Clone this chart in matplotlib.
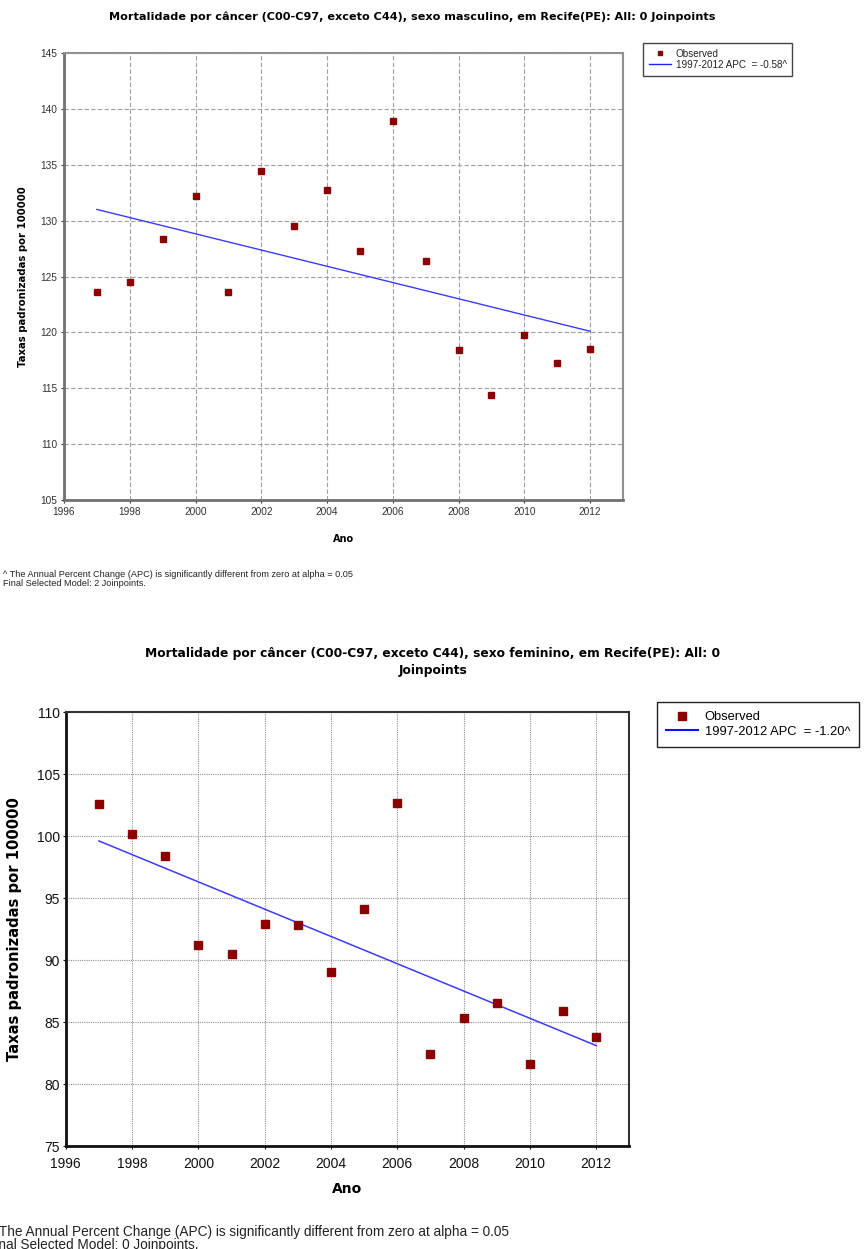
import matplotlib
matplotlib.use("Agg")
import matplotlib.pyplot as plt
from matplotlib.lines import Line2D

# dados
anos = [1997, 1998, 1999, 2000, 2001, 2002, 2003, 2004,
        2005, 2006, 2007, 2008, 2009, 2010, 2011, 2012]
taxa_masc = [123.6, 124.5, 128.4, 132.2, 123.6, 134.4, 129.5, 132.7,
             127.3, 138.9, 126.4, 118.4, 114.4, 119.8, 117.3, 118.5]
taxa_fem = [102.6, 100.2, 98.4, 91.2, 90.5, 92.9, 92.8, 89.0,
            94.1, 102.7, 82.4, 85.3, 86.5, 81.6, 85.9, 83.8]
trend_anos = [1997, 2012]
trend_masc = [131.0, 120.1]
trend_fem = [99.6, 83.1]
apc_masc = "-0.58"
apc_fem = "-1.20"
xticks = [1996, 1998, 2000, 2002, 2004, 2006, 2008, 2010, 2012]
yticks_masc = [105, 110, 115, 120, 125, 130, 135, 140, 145]
yticks_fem = [75, 80, 85, 90, 95, 100, 105, 110]

W, H = 866, 1249
fig = plt.figure(figsize=(W / 100, H / 100), dpi=100)

obs_color = "#8b0000"
line_color = "#3a3aff"


def box(l, t, r, b):
    return [l / W, 1 - b / H, (r - l) / W, (b - t) / H]


# ---- grafico 1: masculino ----
ax1 = fig.add_axes(box(64, 53, 623, 500))
ax1.plot(trend_anos, trend_masc, color=line_color, lw=1.0, zorder=2)
ax1.plot(anos, taxa_masc, ls="none", marker="s", ms=4.2, color=obs_color,
         mec=obs_color, zorder=3)
ax1.set_xlim(1996, 2013)
ax1.set_ylim(105, 145)
ax1.set_xticks(xticks)
ax1.set_yticks(yticks_masc)
ax1.grid(True, color="#a0a0a0", ls=(0, (4, 2)), lw=0.8)
ax1.tick_params(labelsize=7.3, colors="#333333", length=2, pad=3,
                labelfontfamily="Liberation Sans")
for s in ["top", "right"]:
    ax1.spines[s].set_color("#909090")
    ax1.spines[s].set_linewidth(1.5)
for s in ["left", "bottom"]:
    ax1.spines[s].set_color("#707070")
    ax1.spines[s].set_linewidth(2.0)
ax1.set_xlabel("Ano", fontsize=7, fontweight="bold", labelpad=12)
ax1.set_ylabel("Taxas padronizadas por 100000", fontsize=7.3, fontweight="bold",
               labelpad=9)
fig.text(412 / W, 1 - 17 / H,
         "Mortalidade por câncer (C00-C97, exceto C44), sexo masculino, em Recife(PE): All: 0 Joinpoints",
         ha="center", va="center", fontsize=8.1, fontweight="bold")
h1 = [Line2D([], [], ls="none", marker="s", ms=3.5, color=obs_color),
      Line2D([], [], color="#2020ff", lw=1.0)]
leg1 = fig.legend(h1, ["Observed", "1997-2012 APC  = " + apc_masc + "^"],
                  loc="upper left", bbox_to_anchor=(643 / W, 1 - 43 / H),
                  borderaxespad=0, fancybox=False, edgecolor="#444444",
                  prop={"family": "Liberation Sans", "size": 7.1},
                  handlelength=2.2, handletextpad=0.5, labelspacing=0.1,
                  borderpad=0.6, framealpha=1)
leg1.get_frame().set_linewidth(1.0)
for t in leg1.get_texts():
    t.set_color("#222222")
fig.text(3 / W, 1 - 574 / H,
         "^ The Annual Percent Change (APC) is significantly different from zero at alpha = 0.05",
         fontsize=6.6, family="Liberation Sans", va="center", color="#222222")
fig.text(3 / W, 1 - 583 / H, "Final Selected Model: 2 Joinpoints.",
         fontsize=6.6, family="Liberation Sans", va="center", color="#222222")

# ---- grafico 2: feminino ----
ax2 = fig.add_axes(box(65.8, 712, 629.3, 1146))
ax2.plot(trend_anos, trend_fem, color=line_color, lw=1.1, zorder=2)
ax2.plot(anos, taxa_fem, ls="none", marker="s", ms=6.0, color=obs_color,
         mec=obs_color, zorder=3)
ax2.set_xlim(1996, 2013)
ax2.set_ylim(75, 110)
ax2.set_xticks(xticks)
ax2.set_yticks(yticks_fem)
ax2.grid(True, color="#909090", ls=(0, (1, 1)), lw=0.8)
ax2.tick_params(labelsize=10, colors="#111111", length=2, pad=2,
                labelfontfamily="Liberation Sans")
ax2.tick_params(axis="x", pad=6)
for s in ["top", "right"]:
    ax2.spines[s].set_color("#333333")
    ax2.spines[s].set_linewidth(1.5)
for s in ["left", "bottom"]:
    ax2.spines[s].set_color("#111111")
    ax2.spines[s].set_linewidth(2.0)
ax2.set_xlabel("Ano", fontsize=10, fontweight="bold", labelpad=8)
ax2.set_ylabel("Taxas padronizadas por 100000", fontsize=10.6, fontweight="bold",
               labelpad=11)
fig.text(433 / W, 1 - 662 / H,
         "Mortalidade por câncer (C00-C97, exceto C44), sexo feminino, em Recife(PE): All: 0\nJoinpoints",
         ha="center", va="center", fontsize=8.8, fontweight="bold",
         linespacing=1.35)
h2 = [Line2D([], [], ls="none", marker="s", ms=5.5, color=obs_color),
      Line2D([], [], color="#1010ff", lw=1.5)]
leg2 = fig.legend(h2, ["Observed", "1997-2012 APC  = " + apc_fem + "^"],
                  loc="upper left", bbox_to_anchor=(657 / W, 1 - 702 / H),
                  borderaxespad=0, fancybox=False, edgecolor="#222222",
                  prop={"family": "Liberation Sans", "size": 9.3},
                  handlelength=2.5, handletextpad=0.5, labelspacing=0.2,
                  borderpad=0.7, framealpha=1)
leg2.get_frame().set_linewidth(1.0)
fig.text(-11 / W, 1 - 1232 / H,
         "^ The Annual Percent Change (APC) is significantly different from zero at alpha = 0.05",
         fontsize=9.8, family="Liberation Sans", va="center", color="#222222")
fig.text(-13 / W, 1 - 1245 / H, "Final Selected Model: 0 Joinpoints.",
         fontsize=9.8, family="Liberation Sans", va="center", color="#222222")

fig.savefig("out.png", dpi=100)
